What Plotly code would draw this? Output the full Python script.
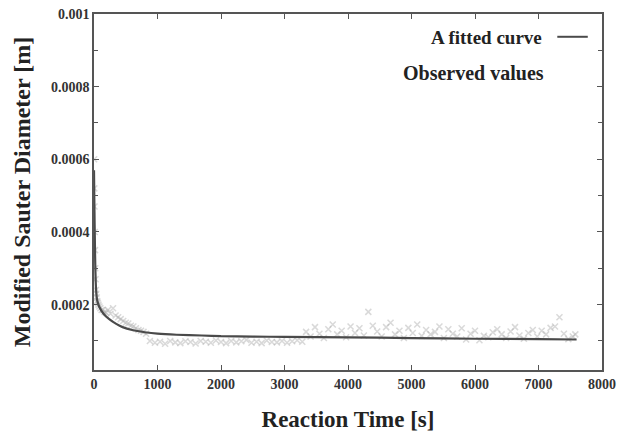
import plotly.graph_objects as go

# Fitted curve
fit_x = [0, 5, 10, 15, 20, 30, 40, 50, 80, 150, 240, 350, 450, 600, 800, 1000,
         1300, 1700, 2000, 2500, 3000, 4000, 5000, 6000, 7000, 7600]
fit_y = [0.00057, 0.00049, 0.00042, 0.00036, 0.00031, 0.00025, 0.000225, 0.000212,
         0.000195, 0.000175, 0.00016, 0.000147, 0.000138, 0.00013, 0.000124, 0.00012,
         0.000117, 0.000115, 0.000113, 0.000112, 0.000111, 0.00011, 0.000108,
         0.000106, 0.000105, 0.000104]

# Observed values
obs_x = [2, 5, 8, 12, 16, 20, 25, 30, 36, 42, 50, 60, 70, 85, 100, 120, 140, 165, 190,
         220, 260, 300, 340, 380, 420, 460, 500, 540, 580, 620, 660, 700, 740, 780, 820,
         880, 960, 1040, 1120, 1200, 1280, 1360, 1440, 1520, 1600, 1680, 1760, 1840,
         1920, 2000, 2080, 2160, 2240, 2320, 2400, 2480, 2560, 2640, 2720, 2800, 2880,
         2960, 3040, 3120, 3200, 3280,
         3340, 3410, 3480, 3550, 3620, 3690, 3760, 3830, 3900, 3970, 4040, 4110, 4180,
         4250, 4320, 4390, 4460, 4530, 4600, 4670, 4740, 4810, 4880, 4950, 5020, 5090,
         5160, 5230, 5300, 5370, 5440, 5510, 5580, 5650, 5720, 5790, 5860, 5930, 6000,
         6070, 6140, 6210, 6280, 6350, 6420, 6490, 6560, 6630, 6700, 6770, 6840, 6910,
         6980, 7050, 7120, 7190, 7260, 7330, 7400, 7470, 7540, 7580]
obs_y = [0.00060, 0.00052, 0.00047, 0.00040, 0.00035, 0.00030, 0.00027, 0.00024,
         0.00023, 0.00022, 0.00021, 0.000205, 0.0002, 0.000195, 0.00019, 0.000185,
         0.000185, 0.00018, 0.000178,
         0.000185, 0.000175, 0.00019, 0.00017, 0.000165, 0.00016, 0.000155, 0.00015,
         0.000148, 0.000142, 0.00014, 0.000135, 0.00013, 0.000128, 0.000125, 0.00012,
         0.0001, 0.000095, 0.000098, 0.000092, 0.0001, 0.000096, 0.000094, 0.000099,
         0.000097, 0.000093, 0.0001, 0.000098, 0.000095, 0.000101, 0.000097, 0.000094,
         0.0001, 0.000096, 0.000099, 0.000103, 0.000095, 0.000098, 0.000094, 0.000101,
         0.000097, 0.000096, 0.0001, 0.000095, 0.000099, 0.000102, 0.000098,
         0.000125, 0.000112, 0.000138, 0.00012, 0.000108, 0.000132, 0.000145, 0.000118,
         0.000128, 0.00011, 0.00014, 0.000122, 0.000135, 0.000115, 0.00018, 0.000142,
         0.000126, 0.000112, 0.000138, 0.00015, 0.000118, 0.000128, 0.000108, 0.000136,
         0.000122, 0.000145, 0.000114, 0.00013, 0.000118, 0.000125, 0.00014, 0.000108,
         0.000132, 0.00012, 0.000112, 0.000135, 0.000104, 0.00012, 0.000128, 0.000102,
         0.000114, 0.00011, 0.000124, 0.000132, 0.000118, 0.000108, 0.000126, 0.000138,
         0.000115, 0.000106, 0.000122, 0.00013, 0.000112, 0.000128, 0.000118, 0.000136,
         0.00014, 0.000165, 0.00012, 0.000105, 0.000112, 0.000118, 0.000108, 0.00011]

x_ticks = [0, 1000, 2000, 3000, 4000, 5000, 6000, 7000, 8000]
y_ticks = [0.0002, 0.0004, 0.0006, 0.0008, 0.001]
y_tick_labels = ["0.0002", "0.0004", "0.0006", "0.0008", "0.001"]
y_minor = [0.0001, 0.0003, 0.0005, 0.0007, 0.0009]

font_family = "Liberation Serif, Times New Roman, serif"

fig = go.Figure()
fig.add_trace(go.Scatter(
    x=obs_x, y=obs_y, mode="markers", name="Observed values",
    marker=dict(symbol="x-thin", size=6, color="rgba(170,170,170,0.45)",
                line=dict(width=1.5, color="rgba(170,170,170,0.45)")),
    showlegend=False))
fig.add_trace(go.Scatter(
    x=fit_x, y=fit_y, mode="lines", name="A fitted curve",
    line=dict(color="#4a4a4a", width=2.2, shape="spline", smoothing=0.6),
    showlegend=False))

axis_common = dict(showline=True, linecolor="#555555", linewidth=1.5, mirror="ticks",
                   ticks="inside", tickcolor="#555555", ticklen=5, tickwidth=1,
                   showgrid=False, zeroline=False, automargin=False,
                   ticklabeloverflow="allow",
                   tickfont=dict(family=font_family, size=14, color="#333333"))

fig.update_xaxes(range=[0, 8000], tickvals=x_ticks,
                 ticktext=["<b>%d</b>" % v for v in x_ticks], **axis_common,
                 title=dict(text="<b>Reaction Time [s]</b>", standoff=20,
                            font=dict(family=font_family, size=23, color="#222222")))
fig.update_yaxes(range=[0.00002, 0.001], tickvals=y_ticks,
                 ticktext=["<b>%s</b>" % t for t in y_tick_labels],
                 minor=dict(tickvals=y_minor, ticks="inside", ticklen=4, tickcolor="#555555"),
                 **axis_common,
                 title=dict(text="<b>Modified Sauter Diameter [m]</b>", standoff=14,
                            font=dict(family=font_family, size=24, color="#222222")))

# gnuplot-style key (text left, sample right)
fig.add_annotation(xref="paper", yref="paper", x=0.885, y=0.933, xanchor="right", yanchor="middle",
                   text="<b>A fitted curve</b>", showarrow=False,
                   font=dict(family=font_family, size=19, color="#222222"))
fig.add_annotation(xref="paper", yref="paper", x=0.889, y=0.834, xanchor="right", yanchor="middle",
                   text="<b>Observed values</b>", showarrow=False,
                   font=dict(family=font_family, size=20, color="#222222"))
fig.add_shape(type="line", xref="paper", yref="paper", x0=0.912, x1=0.972, y0=0.936, y1=0.936,
              line=dict(color="#4a4a4a", width=2))

# page body adds an 8px offset; margins compensate so the frame lands at 94..602 x 14..370
fig.update_layout(width=630, height=436, margin=dict(l=86, r=36, t=6, b=74),
                  plot_bgcolor="white", paper_bgcolor="white", showlegend=False)

fig.write_html("out.html")
